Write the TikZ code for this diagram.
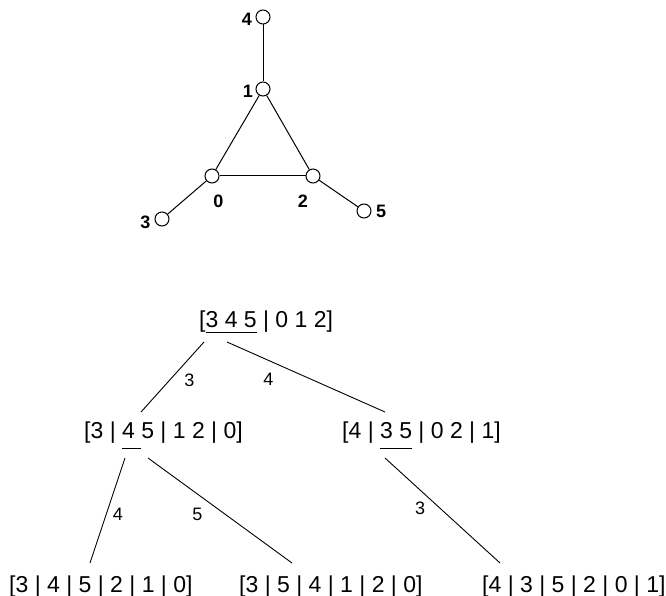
\documentclass[tikz,border=0pt]{standalone}
\usepackage{fontspec}
\setmainfont{Liberation Sans}
\newcommand\myul[2]{\setbox0\hbox{#2}\rlap{\rule[-#1]{\wd0}{0.8pt}}\box0\relax}
\begin{document}
\begin{tikzpicture}[x=1pt,y=-1pt,
  vtx/.style={circle,draw,fill=white,inner sep=0pt,minimum size=14pt,line width=1pt},
  gedge/.style={line width=1pt},
  vlbl/.style={font=\fontsize{18}{21}\selectfont\bfseries,inner sep=0pt},
  st/.style={font=\fontsize{23}{27}\selectfont,inner sep=0pt,anchor=base west},
  stb/.style={font=\fontsize{23}{27}\selectfont,inner sep=0pt,anchor=base west},
  tedge/.style={line width=0.9pt},
  elbl/.style={font=\fontsize{18}{21}\selectfont,inner sep=0pt}]
\useasboundingbox (0,0) rectangle (666,596);
% graph
\node[vtx] (n4) at (263,17) {};
\node[vtx] (n1) at (263,89) {};
\node[vtx] (n0) at (212,176) {};
\node[vtx] (n2) at (313,176) {};
\node[vtx] (n3) at (162,219) {};
\node[vtx] (n5) at (364,211) {};
\draw[gedge] (n1) -- (n4);
\draw[gedge] (n1) -- (n0);
\draw[gedge] (n1) -- (n2);
\draw[gedge] (n0) -- (n2);
\draw[gedge] (n0) -- (n3);
\draw[gedge] (n2) -- (n5);
\node[vlbl] (l4) at (247,19) {4};
\node[vlbl] (l1) at (248,91) {1};
\node[vlbl] (l0) at (218.5,201) {0};
\node[vlbl] (l2) at (303,201) {2};
\node[vlbl] (l3) at (145.5,222) {3};
\node[vlbl] (l5) at (381,211.5) {5};
% tree
\node[st] (r) at (199,327) {[\myul{6pt}{3 4 5} | 0 1 2]};
\node[st] (ml) at (84,438) {[3 | \myul{11pt}{4 }5 | 1 2 | 0]};
\node[st] (mr) at (342,438) {[4 | \myul{11pt}{3 5} | 0 2 | 1]};
\node[stb] (b1) at (9,592) {[3 | 4 | 5 | 2 | 1 | 0]};
\node[stb] (b2) at (239,592) {[3 | 5 | 4 | 1 | 2 | 0]};
\node[stb] (b3) at (482,592) {[4 | 3 | 5 | 2 | 0 | 1]};
\draw[tedge] ([shift={(5,15)}]r.base west) -- ([shift={(57,-26)}]ml.base west);
\draw[tedge] ([shift={(28,15)}]r.base west) -- ([shift={(43,-26)}]mr.base west);
\draw[tedge] ([shift={(41,20)}]ml.base west) -- ([shift={(81,-29)}]b1.base west);
\draw[tedge] ([shift={(64,20)}]ml.base west) -- ([shift={(53,-29)}]b2.base west);
\draw[tedge] ([shift={(43,20)}]mr.base west) -- ([shift={(18,-29)}]b3.base west);
\node[elbl] (e1) at (189.5,380) {3};
\node[elbl] (e2) at (268.5,379) {4};
\node[elbl] (e3) at (118,514.5) {4};
\node[elbl] (e4) at (197.5,514) {5};
\node[elbl] (e5) at (420,508) {3};
\end{tikzpicture}
\end{document}
